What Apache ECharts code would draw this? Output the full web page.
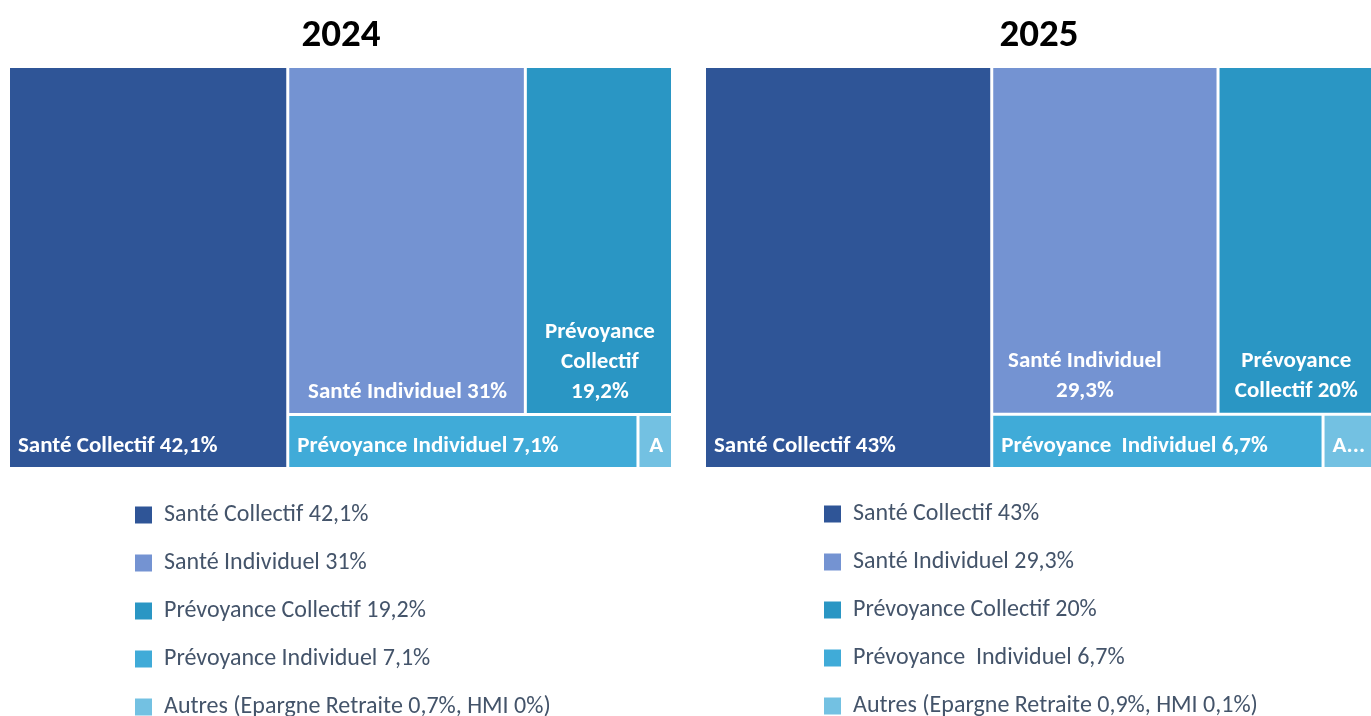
<!DOCTYPE html>
<html>
<head>
<meta charset="utf-8">
<script src="https://cdn.jsdelivr.net/npm/echarts@6/dist/echarts.min.js"></script>
<style>
  html, body { margin: 0; padding: 0; background: #fff; }
  #main { width: 1371px; height: 716px; }
</style>
</head>
<body>
<div id="main"></div>
<script>
const years = ['2024', '2025']
const values2024 = [42.1, 31, 19.2, 7.1, 0.7]
const values2025 = [43, 29.3, 20, 6.7, 1.0]
const boxLabels2024 = ['Santé Collectif 42,1%', 'Santé Individuel 31%', 'Prévoyance\nCollectif\n19,2%', 'Prévoyance Individuel 7,1%', 'A']
const boxLabels2025 = ['Santé Collectif 43%', 'Santé Individuel\n29,3%', 'Prévoyance\nCollectif 20%', 'Prévoyance  Individuel 6,7%', 'A...']
const legend2024 = ['Santé Collectif 42,1%', 'Santé Individuel 31%', 'Prévoyance Collectif 19,2%', 'Prévoyance Individuel 7,1%', 'Autres (Epargne Retraite 0,7%, HMI 0%)']
const legend2025 = ['Santé Collectif 43%', 'Santé Individuel 29,3%', 'Prévoyance Collectif 20%', 'Prévoyance  Individuel 6,7%', 'Autres (Epargne Retraite 0,9%, HMI 0,1%)']

const colors = ['#2F5597', '#7493D2', '#2A96C4', '#40ABD8', '#73C1E2']
// label placement per box: left aligned or centered
const labelPos = ['insideBottomLeft', 'insideBottom', 'insideBottom', 'insideBottomLeft', 'insideBottom']
const labelAlign = ['left', 'center', 'center', 'left', 'center']
const labelShift2025 = [0, -21, 0, 0, 0]
const font = 'Carlito, Lato, sans-serif'

const treeData = (vals, labels, shift) => vals.map((v, i) => ({
    name: labels[i],
    value: v,
    itemStyle: { color: colors[i] },
    label: { position: labelPos[i], align: labelAlign[i], distance: 6, offset: [shift ? shift[i] : 0, 0] }
}))

const legendData = (vals, names) => vals.map((v, i) => ({
    name: names[i],
    value: v,
    itemStyle: { color: colors[i] }
}))

const treemap = (left, width, vals, labels, shift) => ({
    type: 'treemap',
    left: left,
    top: 68,
    width: width,
    height: 399,
    roam: false,
    nodeClick: false,
    squareRatio: 1.3,
    breadcrumb: { show: false },
    silent: true,
    levels: [{ itemStyle: { gapWidth: 3, borderWidth: 0 } }],
    label: {
        show: true,
        color: '#fff',
        fontFamily: font,
        fontWeight: 'bold',
        fontSize: 23,
        lineHeight: 30,
        padding: [0, 0, 0, 2]
    },
    data: treeData(vals, labels, shift)
})

// invisible pies only feed the legends
const hiddenPie = (vals, names) => ({
    type: 'pie',
    radius: [0, 0],
    center: [-100, -100],
    silent: true,
    label: { show: false },
    labelLine: { show: false },
    data: legendData(vals, names)
})

const legend = (left, top, names) => ({
    orient: 'vertical',
    left: left,
    top: top,
    height: 260,
    padding: 0,
    icon: 'rect',
    itemWidth: 17,
    itemHeight: 17,
    itemGap: 24,
    selectedMode: false,
    textStyle: { fontFamily: font, fontSize: 24, color: '#44546A', lineHeight: 20, padding: [0, 0, 0, 7] },
    data: names
})

let chart = echarts.init(document.getElementById('main'))
chart.setOption({
    animation: false,
    title: [
        { text: years[0], left: 336, top: 12, textAlign: 'center', textStyle: { fontFamily: font, fontWeight: 'bold', fontSize: 39, color: '#000' } },
        { text: years[1], left: 1034, top: 12, textAlign: 'center', textStyle: { fontFamily: font, fontWeight: 'bold', fontSize: 39, color: '#000' } }
    ],
    legend: [
        legend(135, 503, legend2024),
        legend(824, 502, legend2025)
    ],
    series: [
        treemap(10, 661, values2024, boxLabels2024),
        treemap(706, 665, values2025, boxLabels2025, labelShift2025),
        hiddenPie(values2024, legend2024),
        hiddenPie(values2025, legend2025)
    ]
})
</script>
</body>
</html>
